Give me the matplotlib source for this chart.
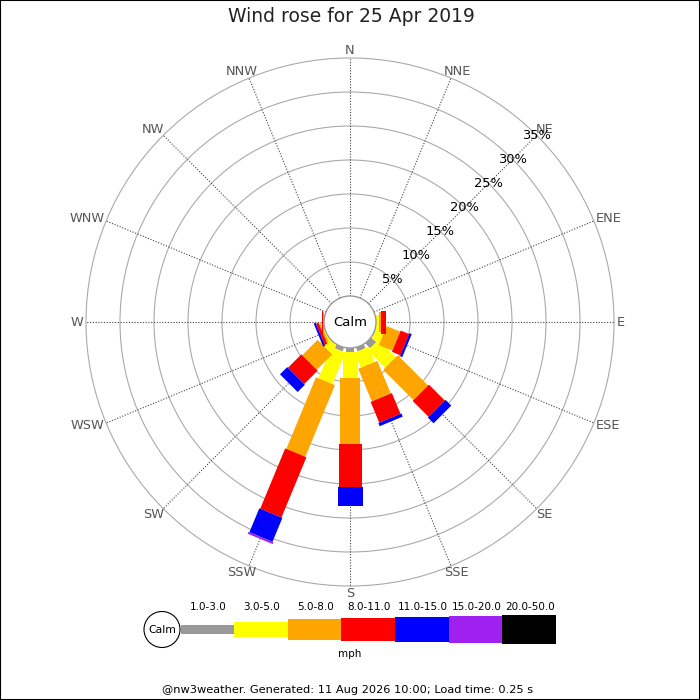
import numpy as np
import matplotlib.pyplot as plt
from matplotlib.patches import Circle, Rectangle

# ---- data (percent of time per direction, per speed band) ----
directions = ['N', 'NNE', 'NE', 'ENE', 'E', 'ESE', 'SE', 'SSE',
              'S', 'SSW', 'SW', 'WSW', 'W', 'WNW', 'NW', 'NNW']
bands = ['1.0-3.0', '3.0-5.0', '5.0-8.0', '8.0-11.0', '11.0-15.0', '15.0-20.0', '20.0-50.0']
colours = ['#999999', '#ffff00', '#ffa500', '#ff0000', '#0000ff', '#a020f0', '#000000']

spd_1_3 = [0, 0, 0, 0, 0.0, 0.1, 1.0, 0.6, 0.6, 0.6, 0.1, 0.0, 0.0, 0, 0, 0]
spd_3_5 = [0, 0, 0, 0, 0.4, 1.3, 3.6, 2.4, 3.8, 5.0, 1.3, 0.2, 0.05, 0, 0, 0]
spd_5_8 = [0, 0, 0, 0, 0.4, 2.15, 6.3, 5.2, 9.7, 11.4, 3.2, 0.3, 0.05, 0, 0, 0]
spd_8_11 = [0, 0, 0, 0, 0.7, 1.35, 3.3, 3.3, 6.3, 9.6, 2.8, 0.4, 0.2, 0, 0, 0]
spd_11_15 = [0, 0, 0, 0, 0.0, 0.35, 1.2, 0.5, 2.8, 3.8, 1.5, 0.3, 0.0, 0, 0, 0]
spd_15_20 = [0, 0, 0, 0, 0, 0, 0, 0, 0, 0.3, 0, 0, 0, 0, 0, 0]
spd_20_50 = [0] * 16

ring_pcts = [5, 10, 15, 20, 25, 30, 35]

title = 'Wind rose for 25 Apr 2019'
footer = '@nw3weather. Generated: 11 Aug 2026 10:00; Load time: 0.25 s'

# ---- layout ----
px = 6.8            # pixels per percent
r0 = 26 / px        # calm hole radius in percent units
leg_px = [8.6, 15, 20.6, 23, 25, 27, 28.3]   # leg thickness per band (pixels)
cx, cy = 350, 322   # rose centre in pixels (from top)

fig = plt.figure(figsize=(7, 7), dpi=100)
renderer = fig.canvas.get_renderer()

ax = fig.add_axes([0, 0, 1, 1])
ax.set_xlim(-cx / px, (700 - cx) / px)
ax.set_ylim(-(700 - cy) / px, cy / px)
ax.set_aspect('equal')
ax.axis('off')

angles = np.deg2rad(np.arange(16) * 22.5)
rmax = r0 + ring_pcts[-1]

# rings
for p in ring_pcts:
    ax.add_patch(Circle((0, 0), r0 + p, fill=False, ec='#aaaaaa', lw=0.8, zorder=1))
    a = np.deg2rad(45)
    ax.text((r0 + p) * np.cos(a), (r0 + p) * np.sin(a), f'{p}%', ha='center', va='center',
            fontsize=9.4, color='black', zorder=6)

# spokes + compass labels
r_lab = 267 / px
for name, th in zip(directions, angles):
    ux, uy = np.sin(th), np.cos(th)
    ax.plot([r0 * ux, rmax * ux], [r0 * uy, rmax * uy], color='#444444', lw=0.8,
            ls=(0, (1, 1.5)), zorder=2)
    t = ax.text(0, 0, name, ha='center', va='center', fontsize=9.3, color='#555555')
    bb = t.get_window_extent(renderer)
    w, h = bb.width / px, bb.height / px
    t.set_position((r_lab * ux + w / 2 * ux, r_lab * uy + 0.35 * h * uy))

# bars
layers = [spd_1_3, spd_3_5, spd_5_8, spd_8_11, spd_11_15, spd_15_20, spd_20_50]
cum = np.zeros(16)
for vals, col, lw_px in zip(layers, colours, leg_px):
    vals = np.array(vals, dtype=float)
    hw = lw_px / 2 / px
    for i, th in enumerate(angles):
        if vals[i] <= 0:
            continue
        ux, uy = np.sin(th), np.cos(th)
        qx, qy = np.cos(th), -np.sin(th)
        ri, ro = r0 + cum[i], r0 + cum[i] + vals[i]
        xs = [ri * ux - hw * qx, ro * ux - hw * qx, ro * ux + hw * qx, ri * ux + hw * qx]
        ys = [ri * uy - hw * qy, ro * uy - hw * qy, ro * uy + hw * qy, ri * uy + hw * qy]
        ax.fill(xs, ys, color=col, lw=0, zorder=3)
    cum += vals

ax.add_patch(Circle((0, 0), r0, fc='white', ec='#999999', lw=1, zorder=5))
ax.text(0, 0, 'Calm', ha='center', va='center', fontsize=9.5, zorder=6)

# ---- legend / text in pixel coordinates ----
lg = fig.add_axes([0, 0, 1, 1], zorder=5)
lg.set_xlim(0, 700)
lg.set_ylim(700, 0)
lg.axis('off')
lg.patch.set_alpha(0)

leg_x0, leg_w, leg_y = 180.5, 53.6, 629.5
lg.bar([leg_x0 + i * leg_w for i in range(len(bands))], leg_px, width=leg_w,
       bottom=[leg_y - h / 2 for h in leg_px], color=colours, align='edge', lw=0)
for i, b in enumerate(bands):
    lg.text(leg_x0 + (i + 0.5) * leg_w + 1, 607, b, ha='center', va='center', fontsize=7.5)
lg.add_patch(Circle((162, 629.5), 18, fc='white', ec='black', lw=0.8))
lg.text(162, 630, 'Calm', ha='center', va='center', fontsize=7.8)
lg.text(350, 654, 'mph', ha='center', va='center', fontsize=7.5)

lg.text(351, 17, title, ha='center', va='center', fontsize=13.5, color='#222222')
lg.text(348, 690, footer, ha='center', va='center', fontsize=8.2)

fig.patches.append(Rectangle((0, 0), 1, 1, transform=fig.transFigure, fill=False,
                             ec='black', lw=1.5))

fig.savefig('out.png', dpi=100)
